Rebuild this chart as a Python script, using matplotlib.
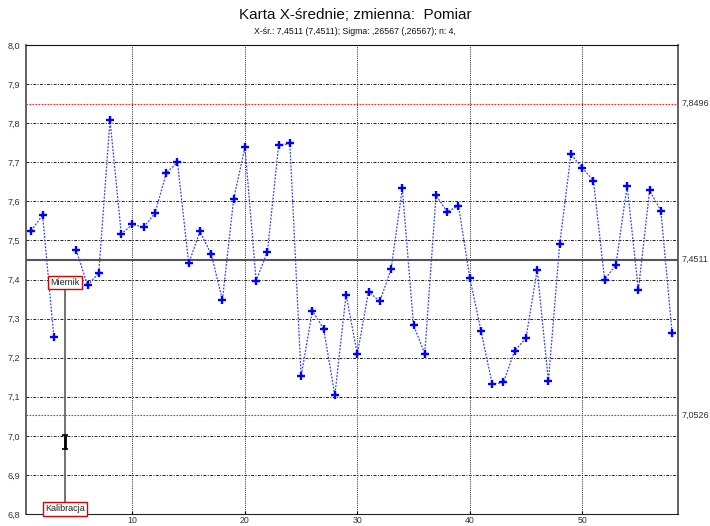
import numpy as np
import matplotlib
matplotlib.use("Agg")
import matplotlib.pyplot as plt

plt.rcParams['font.family'] = ['Liberation Sans', 'DejaVu Sans']

# Sample means (sample 4 not measured)
samples = np.arange(1, 59)
means = [7.525, 7.565, 7.254, np.nan, 7.475, 7.385, 7.417, 7.808, 7.517, 7.541,
         7.534, 7.570, 7.672, 7.700, 7.441, 7.523, 7.465, 7.348, 7.606, 7.738,
         7.397, 7.471, 7.743, 7.748, 7.152, 7.320, 7.274, 7.104, 7.361, 7.209,
         7.369, 7.344, 7.426, 7.633, 7.283, 7.210, 7.615, 7.573, 7.589, 7.405,
         7.269, 7.132, 7.137, 7.218, 7.250, 7.425, 7.140, 7.490, 7.720, 7.686,
         7.653, 7.400, 7.437, 7.640, 7.373, 7.628, 7.576, 7.264]

center = 7.4511
ucl = 7.8496
lcl = 7.0526
limit_labels = ["7,8496", "7,4511", "7,0526"]

event_sample = 4
event_top = "Miernik"
event_bottom = "Kalibracja"
event_mark = 6.984

y_ticks = np.round(np.arange(6.8, 8.01, 0.1), 1)
x_ticks = [10, 20, 30, 40, 50]

fig = plt.figure(figsize=(7.10, 5.26), dpi=100)
ax = fig.add_axes([25.7 / 710, 1 - 514 / 526, (677.7 - 25.7) / 710, (514 - 45) / 526])

ax.set_xlim(0.5, 58.5)
ax.set_ylim(6.8, 8.0)

# grid
for yv in y_ticks[1:-1]:
    ax.axhline(yv, color='#222222', lw=0.7, ls=(0, (3, 1.5, 1, 1.5)), zorder=1)
for xv in x_ticks:
    ax.axvline(xv, color='#222222', lw=0.7, ls=(0, (1, 1.2)), zorder=1)

# control limits
ax.axhline(ucl, color='#ff2020', lw=0.8, ls=(0, (1.5, 1.2)), zorder=2)
ax.axhline(lcl, color='#ff2020', lw=0.8, ls=(0, (1.5, 1.2)), zorder=2)
ax.axhline(center, color='#555555', lw=1.5, zorder=2)

# data
ax.plot(samples, means, color='#3040ff', lw=0.9, ls=(0, (1.5, 1.2)), zorder=3)
ax.plot(samples, means, ls='none', marker='+', ms=5.5, mew=1.7, color='#0000ff', zorder=4)

# event line with labels
ax.plot([event_sample, event_sample], [7.375, 6.82], color='#5a5a5a', lw=1.2, zorder=3)
ax.errorbar([event_sample], [event_mark], yerr=[0.018], color='black', lw=2,
            capsize=2.5, capthick=1.2, zorder=5)
box = dict(boxstyle='square,pad=0.25', fc='white', ec='#e00000', lw=1)
ax.text(event_sample, 7.392, event_top, ha='center', va='center', fontsize=6.5,
        color='#202020', bbox=box, zorder=6)
ax.text(event_sample, 6.813, event_bottom, ha='center', va='center', fontsize=6.5,
        color='#202020', bbox=box, zorder=6)

# ticks
ax.set_yticks(y_ticks)
ax.set_yticklabels([f"{v:.1f}".replace('.', ',') for v in y_ticks], fontsize=6.5, color='#333333')
ax.set_xticks(x_ticks)
ax.set_xticklabels([str(v) for v in x_ticks], fontsize=6.3, color='#333333')
ax.tick_params(axis='y', length=0, pad=4)
ax.tick_params(axis='x', length=2, direction='in', pad=1.5)

for side in ['left', 'right']:
    ax.spines[side].set_color('#555555')
    ax.spines[side].set_linewidth(1.3)
ax.spines['bottom'].set_color('#222222')
ax.spines['top'].set_color('#111111')

# right-side limit values
for val, lab in zip([ucl, center, lcl], limit_labels):
    ax.text(1.006, val, lab, transform=ax.get_yaxis_transform(), ha='left', va='center',
            fontsize=6.5, color='#333333')

fig.text(0.5, 1 - 15 / 526, "Karta X-średnie; zmienna:  Pomiar", ha='center', va='center',
         fontsize=11, color='#111111')
fig.text(0.5, 1 - 31 / 526, "X-śr.: 7,4511 (7,4511); Sigma: ,26567 (,26567); n: 4,",
         ha='center', va='center', fontsize=6.3, color='#111111')

fig.savefig("out.png", dpi=100)
